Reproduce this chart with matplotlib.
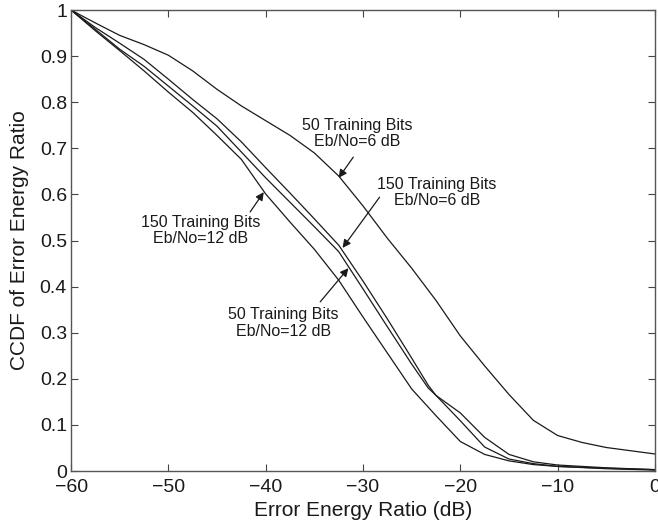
import matplotlib
matplotlib.use("Agg")
import matplotlib.pyplot as plt

plt.rcParams['font.family'] = ['Liberation Sans', 'DejaVu Sans']

# Curve data (x in dB, y = CCDF)
# 50 Training Bits, Eb/No = 6 dB
a_x = [-60, -57.5, -55, -52.5, -50, -47.5, -45, -42.5, -40, -37.5, -35, -32.5, -30, -27.5, -25,
       -22.5, -20, -17.5, -15, -12.5, -10, -7.5, -5, -2.5, 0]
a_y = [1.0, 0.972, 0.945, 0.925, 0.902, 0.868, 0.828, 0.792, 0.760, 0.728, 0.690, 0.640, 0.575,
       0.505, 0.440, 0.370, 0.293, 0.228, 0.166, 0.110, 0.077, 0.062, 0.051, 0.044, 0.037]

# 150 Training Bits, Eb/No = 6 dB
b_x = [-60, -57.5, -55, -52.5, -50, -47.5, -45, -42.5, -40, -37.5, -35, -32.5, -30, -27.5, -25,
       -23.3, -22.5, -20, -17.5, -15, -12.5, -10, -5, 0]
b_y = [1.0, 0.962, 0.928, 0.893, 0.850, 0.806, 0.764, 0.714, 0.658, 0.603, 0.547, 0.490, 0.412,
       0.330, 0.245, 0.186, 0.164, 0.109, 0.052, 0.026, 0.016, 0.010, 0.005, 0.002]

# 50 Training Bits, Eb/No = 12 dB
c_x = [-60, -57.5, -55, -52.5, -50, -47.5, -45, -42.5, -40, -37.5, -35, -32.5, -30, -27.5, -25,
       -23.3, -22.5, -20, -17.5, -15, -12.5, -10, -5, 0]
c_y = [1.0, 0.958, 0.915, 0.878, 0.835, 0.792, 0.748, 0.692, 0.636, 0.583, 0.530, 0.476, 0.395,
       0.313, 0.232, 0.180, 0.164, 0.126, 0.073, 0.036, 0.020, 0.013, 0.007, 0.003]

# 150 Training Bits, Eb/No = 12 dB
d_x = [-60, -57.5, -55, -52.5, -50, -47.5, -45, -42.5, -40, -37.5, -35, -32.5, -30, -27.5, -25,
       -22.5, -20, -17.5, -15, -12.5, -10, -5, 0]
d_y = [1.0, 0.955, 0.912, 0.868, 0.822, 0.778, 0.728, 0.676, 0.601, 0.540, 0.481, 0.414, 0.334,
       0.256, 0.178, 0.120, 0.064, 0.036, 0.022, 0.014, 0.010, 0.006, 0.003]

x_ticks = [-60, -50, -40, -30, -20, -10, 0]
x_tick_labels = ['\u221260', '\u221250', '\u221240', '\u221230', '\u221220', '\u221210', '0']
y_ticks = [0, 0.1, 0.2, 0.3, 0.4, 0.5, 0.6, 0.7, 0.8, 0.9, 1]
y_tick_labels = ['0', '0.1', '0.2', '0.3', '0.4', '0.5', '0.6', '0.7', '0.8', '0.9', '1']

labels = ['50 Training Bits\nEb/No=6 dB', '150 Training Bits\nEb/No=6 dB',
          '150 Training Bits\nEb/No=12 dB', '50 Training Bits\nEb/No=12 dB']
label_pos = [(-30.6, 0.733), (-22.4, 0.605), (-46.7, 0.521), (-38.2, 0.321)]
arrow_tail = [(-31.0, 0.681), (-28.3, 0.594), (-41.6, 0.562), (-34.4, 0.367)]
arrow_head = [(-32.5, 0.636), (-32.1, 0.484), (-40.2, 0.605), (-31.5, 0.44)]

fig = plt.figure(figsize=(6.58, 5.29), dpi=100)
ax = fig.add_axes([0.108, 0.1096, 0.8874, 0.8714])

for xs, ys in [(a_x, a_y), (b_x, b_y), (c_x, c_y), (d_x, d_y)]:
    ax.plot(xs, ys, color='#1a1a1a', lw=0.9)

ax.set_xlim(-60, 0)
ax.set_ylim(0, 1)
ax.set_xticks(x_ticks)
ax.set_xticklabels(x_tick_labels)
ax.set_yticks(y_ticks)
ax.set_yticklabels(y_tick_labels)
ax.tick_params(direction='in', length=5, width=0.8, colors='#444444',
               labelcolor='#1a1a1a', labelsize=14, top=True, right=True)
ax.tick_params(axis='x', pad=6)
ax.tick_params(axis='y', pad=3)
for s in ax.spines.values():
    s.set_color('#555555')
    s.set_linewidth(1.0)

ax.set_xlabel('Error Energy Ratio (dB)', fontsize=15, color='#1a1a1a', labelpad=3)
ax.set_ylabel('CCDF of Error Energy Ratio', fontsize=15, color='#1a1a1a', labelpad=8)

for lab, pos, tail, head in zip(labels, label_pos, arrow_tail, arrow_head):
    ax.text(pos[0], pos[1], lab, ha='center', va='center', fontsize=11.5,
            linespacing=1.1, color='#1a1a1a')
    ax.annotate('', xy=head, xytext=tail,
                arrowprops=dict(arrowstyle='-|>', color='#1a1a1a', lw=0.9,
                                mutation_scale=12, shrinkA=0, shrinkB=0))

fig.savefig('out.png', dpi=100)
